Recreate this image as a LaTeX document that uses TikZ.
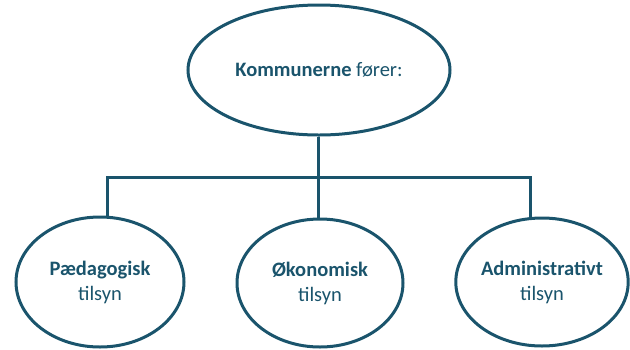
\documentclass[tikz,border=0pt]{standalone}
\usepackage{fontspec}
\setmainfont{Carlito}
\usetikzlibrary{shapes.geometric}
\definecolor{teal1}{RGB}{26,84,108}
\begin{document}
\begin{tikzpicture}[x=1pt,y=-1pt,
  oval/.style={ellipse,draw=teal1,line width=3pt,inner sep=0pt,text=teal1,align=center,font=\fontsize{20.5}{25}\selectfont},
  conn/.style={draw=teal1,line width=3pt}]
\useasboundingbox (0,0) rectangle (630,349);
\node[oval,minimum width=262pt,minimum height=130pt] (top) at (319,70) {\raisebox{-5pt}{\textbf{Kommunerne} fører:}};
\node[oval,minimum width=168pt,minimum height=130pt] (L) at (100,282) {\textbf{Pædagogisk}\\tilsyn};
\node[oval,minimum width=166pt,minimum height=128pt] (M) at (320,283) {\textbf{Økonomisk}\\tilsyn};
\node[oval,minimum width=160pt,minimum height=128pt] (R) at (542,282) {\textbf{Administrativt}\\tilsyn};
\coordinate (jL) at (107,177);
\coordinate (jM) at (318,177);
\coordinate (jR) at (530,177);
\draw[conn] (top.south -| jM) -- (jM);
\draw[conn] (jL |- L.north) -- (jL) -- (jR) -- (jR |- R.north);
\draw[conn] (jM) -- (jM |- M.north);
\end{tikzpicture}
\end{document}
